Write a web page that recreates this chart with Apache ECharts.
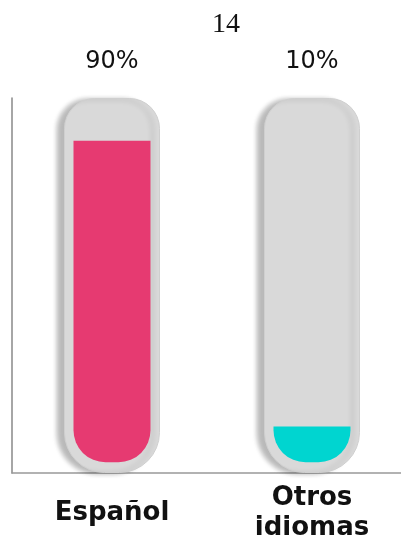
<!DOCTYPE html>
<html>
<head>
<meta charset="utf-8">
<script src="https://cdn.jsdelivr.net/npm/echarts@6/dist/echarts.min.js"></script>
<style>
  html, body { margin: 0; padding: 0; background: #fff; }
  #chart { width: 401px; height: 539px; }
</style>
</head>
<body>
<div id="chart"></div>
<script>
const categories = ['Español', 'Otros\nidiomas'];
const shares = [90, 10];
const trackFull = [100, 100];

const chart = echarts.init(document.getElementById('chart'));

chart.setOption({
    animation: false,
    title: {
        text: '14',
        left: 221,
        top: 6,
        textAlign: 'center',
        textStyle: { fontFamily: 'Liberation Serif', fontWeight: 'normal', fontSize: 28, color: '#111' }
    },
    grid: { left: 12, width: 400, top: 98, bottom: 66, outerBoundsMode: 'none', containLabel: false },
    xAxis: [
        {
            type: 'category',
            data: categories,
            axisLine: { show: true, lineStyle: { color: '#999', width: 1.5 } },
            axisTick: { show: false },
            axisLabel: {
                margin: 40,
                verticalAlign: 'middle',
                lineHeight: 30,
                fontFamily: 'DejaVu Sans',
                fontWeight: 'bold',
                fontSize: 26,
                color: '#111'
            }
        },
        { type: 'category', data: categories, show: false }
    ],
    yAxis: [
        {
            type: 'value',
            min: 0,
            max: 100,
            axisLine: { show: true, lineStyle: { color: '#888', width: 1.5 } },
            axisTick: { show: false },
            axisLabel: { show: false },
            splitLine: { show: false }
        },
        { type: 'value', min: -3, max: 102, show: false }
    ],
    series: [
        {
            name: 'track',
            type: 'bar',
            xAxisIndex: 0,
            yAxisIndex: 0,
            data: trackFull,
            barWidth: 96,
            itemStyle: {
                color: '#d9d9d9',
                borderColor: '#cfcfcf',
                borderWidth: 1,
                borderRadius: [30, 30, 40, 40],
                shadowColor: 'rgba(0,0,0,0.28)',
                shadowBlur: 5,
                shadowOffsetX: -7,
                shadowOffsetY: 1
            },
            label: {
                show: true,
                position: 'top',
                distance: 24,
                formatter: p => shares[p.dataIndex] + '%',
                fontFamily: 'DejaVu Sans',
                fontSize: 24,
                color: '#111'
            }
        },
        {
            name: 'share',
            type: 'bar',
            xAxisIndex: 1,
            yAxisIndex: 1,
            data: shares.map((v, i) => ({
                value: v,
                itemStyle: { color: i === 0 ? '#e63a71' : '#00d5d0' }
            })),
            barWidth: 77,
            itemStyle: { borderRadius: [0, 0, 32, 32] }
        }
    ]
});

window.addEventListener('resize', () => chart.resize());
</script>
</body>
</html>
